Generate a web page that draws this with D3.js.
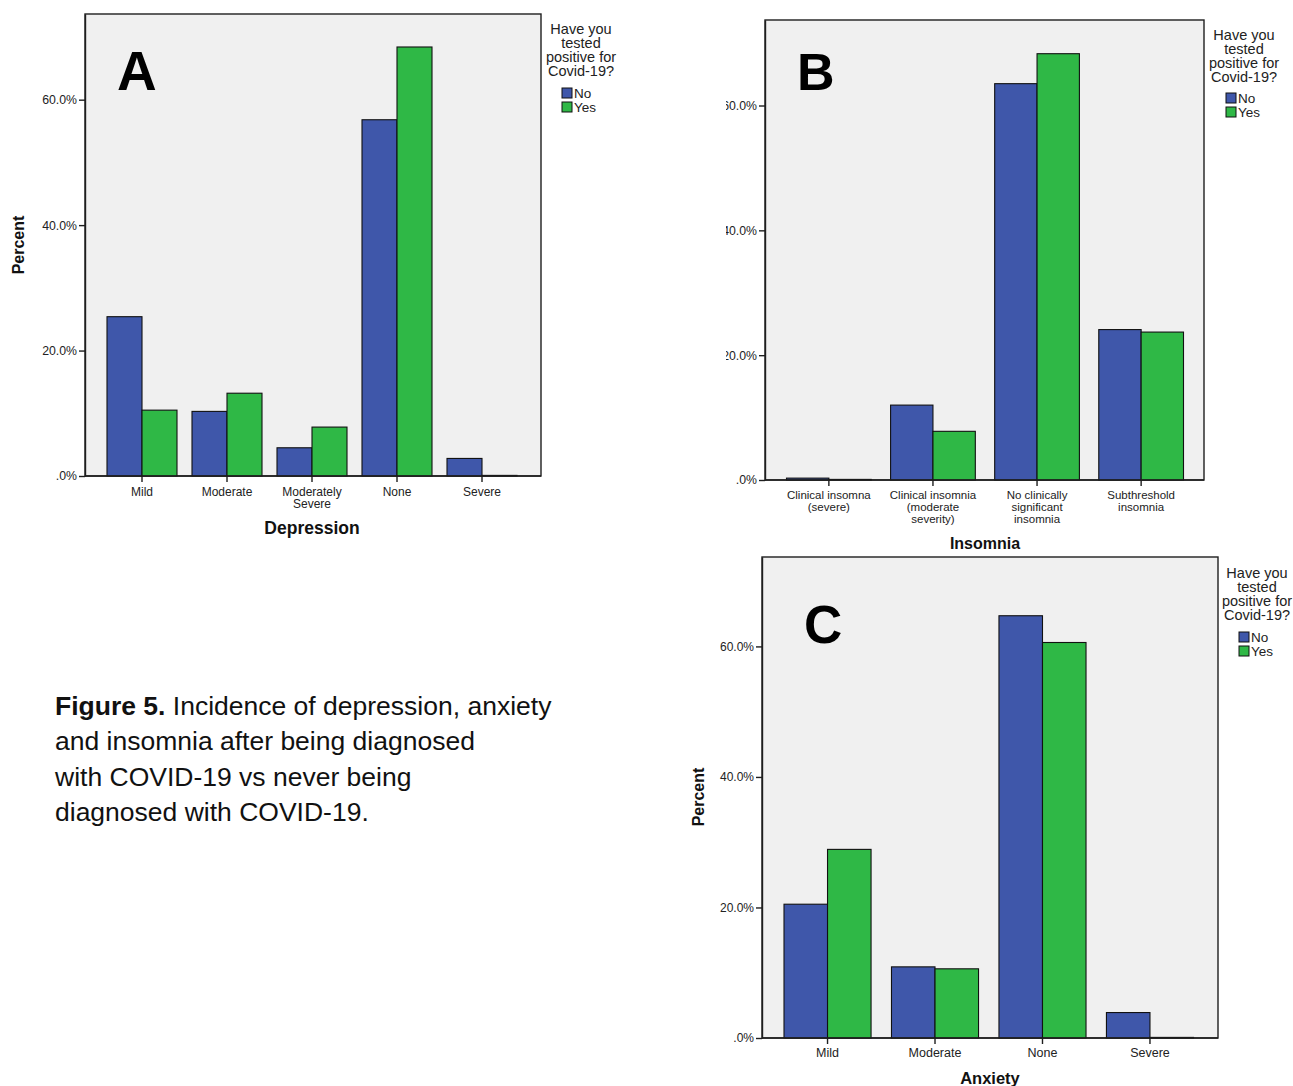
<!DOCTYPE html>
<html>
<head>
<meta charset="utf-8">
<script src="https://cdn.jsdelivr.net/npm/d3@7"></script>
<style>
  html, body { margin: 0; padding: 0; background: #ffffff; }
  svg { display: block; }
</style>
</head>
<body>
<svg id="chart" width="1293" height="1086"></svg>
<script>
// ---------------- DATA ----------------
const seriesNames = ["No", "Yes"];
const legendTitle = ["Have you", "tested", "positive for", "Covid-19?"];
const yTickValues = [0, 20, 40, 60];
const yTickLabels = [".0%", "20.0%", "40.0%", "60.0%"];

const depressionCats = ["Mild", "Moderate", "Moderately\nSevere", "None", "Severe"];
const depressionNo   = [25.4, 10.3, 4.5, 56.8, 2.8];
const depressionYes  = [10.5, 13.2, 7.8, 68.4, 0];

const insomniaCats = ["Clinical insomna\n(severe)", "Clinical insomnia\n(moderate\nseverity)", "No clinically\nsignificant\ninsomnia", "Subthreshold\ninsomnia"];
const insomniaNo   = [0.3, 12.0, 63.5, 24.1];
const insomniaYes  = [0, 7.8, 68.3, 23.7];

const anxietyCats = ["Mild", "Moderate", "None", "Severe"];
const anxietyNo   = [20.5, 10.9, 64.7, 3.9];
const anxietyYes  = [28.9, 10.6, 60.6, 0];

const captionLines = [
  ["Figure 5.", " Incidence of depression, anxiety"],
  ["", "and insomnia after being diagnosed"],
  ["", "with COVID-19 vs never being"],
  ["", "diagnosed with COVID-19."]
];

// ---------------- STYLE ----------------
const colors = { No: "#3f57aa", Yes: "#2fb846" };
const plotBg = "#f0f0f0";
const frameColor = "#1e1e1e";
const FONT = "'Liberation Sans', Arial, sans-serif";

const svg = d3.select("#chart");

// clip for panel B (its left edge is cropped in the figure)
svg.append("defs").append("clipPath").attr("id", "clipB")
  .append("rect").attr("x", 726).attr("y", 0).attr("width", 567).attr("height", 552);

function drawPanel(cfg) {
  const g = svg.append("g");
  if (cfg.clip) g.attr("clip-path", cfg.clip);

  const data = cfg.cats.map((c, i) => ({ cat: c, No: cfg.no[i], Yes: cfg.yes[i] }));
  const n = cfg.cats.length;
  const pi = cfg.pi;
  const step = (cfg.R - cfg.L) / (n - pi);
  const x0 = d3.scaleBand().domain(cfg.cats)
    .range([cfg.L - step * pi / 2, cfg.R + step * pi / 2])
    .paddingInner(pi).paddingOuter(pi / 2);
  const x1 = d3.scaleBand().domain(seriesNames).range([0, x0.bandwidth()]);
  const y = d3.scaleLinear().domain([0, cfg.ymax]).range([cfg.y1, cfg.y0]);

  // plot frame
  g.append("rect")
    .attr("x", cfg.fx0).attr("y", cfg.y0)
    .attr("width", cfg.fx1 - cfg.fx0).attr("height", cfg.y1 - cfg.y0)
    .attr("fill", plotBg).attr("stroke", frameColor).attr("stroke-width", 1.4);

  // bars
  const groups = g.append("g").selectAll("g").data(data).join("g")
    .attr("transform", d => `translate(${x0(d.cat)},0)`);
  groups.selectAll("rect")
    .data(d => seriesNames.map(s => ({ key: s, value: d[s] })))
    .join("rect")
    .attr("x", d => x1(d.key))
    .attr("width", x1.bandwidth())
    .attr("y", d => Math.min(y(d.value), cfg.y1 - 0.6))
    .attr("height", d => Math.max(cfg.y1 - y(d.value), 0.6))
    .attr("fill", d => colors[d.key])
    .attr("stroke", "#111").attr("stroke-width", 1.1);

  // y axis
  const yAxis = d3.axisLeft(y).tickValues(yTickValues)
    .tickFormat(d => yTickLabels[yTickValues.indexOf(d)])
    .tickSize(6).tickSizeOuter(0).tickPadding(2);
  const ya = g.append("g").attr("transform", `translate(${cfg.fx0},0)`).call(yAxis);
  ya.select(".domain").attr("stroke", frameColor).attr("stroke-width", 1.4);
  ya.selectAll(".tick line").attr("stroke", frameColor).attr("stroke-width", 1.4);
  ya.selectAll(".tick text").attr("font-family", cfg.font).attr("font-size", cfg.tickSize)
    .attr("fill", "#222");

  // x axis
  const xAxis = d3.axisBottom(x0).tickSize(6).tickSizeOuter(0).tickPadding(4);
  const xa = g.append("g").attr("transform", `translate(0,${cfg.y1})`).call(xAxis);
  xa.select(".domain").attr("stroke", frameColor).attr("stroke-width", 1.6)
    .attr("d", `M${cfg.fx0},0H${cfg.fx1}`);
  xa.selectAll(".tick line").attr("stroke", frameColor).attr("stroke-width", 1.4);
  xa.selectAll(".tick text").each(function (d) {
    const t = d3.select(this);
    const lines = d.split("\n");
    t.text(null).attr("font-family", cfg.font).attr("font-size", cfg.xTickSize).attr("fill", "#222")
      .attr("dy", null).attr("y", cfg.xLabelY - cfg.y1);
    lines.forEach((ln, i) => {
      t.append("tspan").attr("x", 0).attr("dy", i === 0 ? "0" : cfg.xLineH).text(ln);
    });
  });

  // axis titles
  g.append("text").attr("x", cfg.xTitle[0]).attr("y", cfg.xTitle[1])
    .attr("text-anchor", "middle").attr("font-family", FONT).attr("font-weight", "bold")
    .attr("font-size", cfg.titleSize).attr("fill", "#111").text(cfg.xTitleText);
  if (cfg.yTitle) {
    g.append("text").attr("transform", `translate(${cfg.yTitle[0]},${cfg.yTitle[1]}) rotate(-90)`)
      .attr("text-anchor", "middle").attr("font-family", FONT).attr("font-weight", "bold")
      .attr("font-size", cfg.yTitleSize).attr("fill", "#111").text("Percent");
  }

  // panel letter
  g.append("text").attr("x", cfg.letter[0]).attr("y", cfg.letter[1])
    .attr("font-family", FONT).attr("font-weight", "bold").attr("font-size", cfg.letterSize)
    .attr("fill", "#000").text(cfg.letterText);

  // legend
  const lg = g.append("g");
  legendTitle.forEach((ln, i) => {
    lg.append("text").attr("x", cfg.legCx).attr("y", cfg.legY + i * 14)
      .attr("text-anchor", "middle").attr("font-family", cfg.font)
      .attr("font-size", 14.5).attr("fill", "#222").text(ln);
  });
  seriesNames.forEach((s, i) => {
    const yy = cfg.legSwY + i * 14;
    lg.append("rect").attr("x", cfg.legSwX).attr("y", yy).attr("width", 10).attr("height", 10)
      .attr("fill", colors[s]).attr("stroke", "#111").attr("stroke-width", 1);
    lg.append("text").attr("x", cfg.legSwX + 12).attr("y", yy + 10)
      .attr("font-family", cfg.font)
      .attr("font-size", 13.5).attr("fill", "#222").text(s);
  });
}

// Panel A - Depression
drawPanel({
  cats: depressionCats, no: depressionNo, yes: depressionYes,
  fx0: 85, fx1: 541, y0: 14, y1: 476, ymax: 73.66,
  L: 107, R: 517, pi: 15 / 85,
  font: FONT, tickSize: 12.3, xTickSize: 12, xLabelY: 496, xLineH: 12,
  xTitle: [312, 534], xTitleText: "Depression", titleSize: 17.5,
  yTitle: [24, 245], yTitleSize: 16,
  letter: [117, 90], letterSize: 55, letterText: "A",
  legCx: 581, legY: 34, legSwX: 562, legSwY: 88
});

// Panel B - Insomnia
drawPanel({
  cats: insomniaCats, no: insomniaNo, yes: insomniaYes,
  fx0: 765, fx1: 1204, y0: 20, y1: 480, ymax: 73.7,
  L: 786.5, R: 1183.5, pi: 0.186,
  font: FONT, tickSize: 12.3, xTickSize: 11.5, xLabelY: 499, xLineH: 12,
  xTitle: [985, 549], xTitleText: "Insomnia", titleSize: 16,
  yTitle: null,
  letter: [797, 90], letterSize: 52, letterText: "B",
  legCx: 1244, legY: 40, legSwX: 1226, legSwY: 93,
  clip: "url(#clipB)"
});

// Panel C - Anxiety
drawPanel({
  cats: anxietyCats, no: anxietyNo, yes: anxietyYes,
  fx0: 762, fx1: 1218, y0: 557, y1: 1038, ymax: 73.7,
  L: 784, R: 1193.5, pi: 0.19,
  font: FONT, tickSize: 12, xTickSize: 12.5, xLabelY: 1057, xLineH: 12,
  xTitle: [990, 1084], xTitleText: "Anxiety", titleSize: 16.5,
  yTitle: [704, 797], yTitleSize: 16,
  letter: [804, 643], letterSize: 53, letterText: "C",
  legCx: 1257, legY: 578, legSwX: 1239, legSwY: 632
});

// Caption
const cap = svg.append("g");
captionLines.forEach((ln, i) => {
  const t = cap.append("text").attr("x", 55).attr("y", 715 + i * 35.3)
    .attr("font-family", FONT).attr("font-size", 26.5).attr("fill", "#111");
  if (ln[0]) t.append("tspan").attr("font-weight", "bold").text(ln[0]);
  t.append("tspan").text(ln[1]);
});
</script>
</body>
</html>
